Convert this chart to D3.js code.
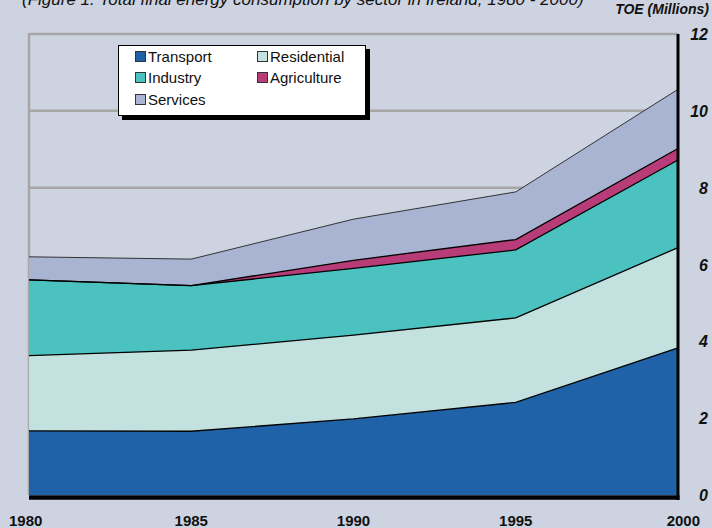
<!DOCTYPE html>
<html>
<head>
<meta charset="utf-8">
<script src="https://cdn.jsdelivr.net/npm/d3@7"></script>
<style>
  html, body { margin: 0; padding: 0; background: #CDD3E0; }
  svg { display: block; font-family: "Liberation Sans", Arial, sans-serif; }
</style>
</head>
<body>
<div id="chart"></div>
<script>
// data
const years = [1980, 1985, 1990, 1995, 2000];
const sectors = ["Transport", "Residential", "Industry", "Agriculture", "Services"];
const transport = [1.67, 1.66, 1.98, 2.41, 3.83];
const residential = [1.96, 2.11, 2.18, 2.20, 2.61];
const industry = [1.97, 1.68, 1.74, 1.77, 2.28];
const agriculture = [0, 0, 0.21, 0.27, 0.30];
const services = [0.60, 0.69, 1.07, 1.24, 1.54];
const yTicks = [0, 2, 4, 6, 8, 10, 12];

const colors = {
    Transport: "#2062A8",
    Residential: "#C2E1DF",
    Industry: "#4BC2BF",
    Agriculture: "#B83C78",
    Services: "#A9B4D3"
};

const width = 712, height = 528;
const plotLeft = 29, plotRight = 678, plotTop = 34, plotBottom = 495;

const rows = years.map((yr, i) => ({
    year: yr,
    Transport: transport[i],
    Residential: residential[i],
    Industry: industry[i],
    Agriculture: agriculture[i],
    Services: services[i]
}));

const svg = d3.select("#chart").append("svg")
    .attr("width", width)
    .attr("height", height);

svg.append("rect").attr("width", width).attr("height", height).attr("fill", "#CDD3E0");

// title line, cut off at the top edge like in the source image
svg.append("text")
    .attr("x", 22)
    .attr("y", 5)
    .style("font-size", "17px")
    .style("font-style", "italic")
    .attr("fill", "#111")
    .text("(Figure 1: Total final energy consumption by sector in Ireland, 1980 - 2000)");

const x = d3.scaleLinear().domain([1980, 2000]).range([plotLeft, plotRight]);
const y = d3.scaleLinear().domain([0, 12]).range([plotBottom, plotTop]);

// grid lines
svg.append("g")
    .selectAll("line")
    .data(yTicks.filter(d => d > 0))
    .enter()
    .append("line")
    .attr("x1", plotLeft)
    .attr("x2", plotRight)
    .attr("y1", d => y(d))
    .attr("y2", d => y(d))
    .attr("stroke", "#A6A6A6")
    .attr("stroke-width", 2.5);

// left border (grey)
svg.append("line")
    .attr("x1", plotLeft).attr("x2", plotLeft)
    .attr("y1", plotTop - 1).attr("y2", plotBottom)
    .attr("stroke", "#A6A6A6")
    .attr("stroke-width", 2.5);

// stacked areas
const stack = d3.stack().keys(sectors);
const series = stack(rows);

const area = d3.area()
    .x(d => x(d.data.year))
    .y0(d => y(d[0]))
    .y1(d => y(d[1]));

const topLine = d3.line()
    .x(d => x(d.data.year))
    .y(d => y(d[1]));

svg.append("g")
    .selectAll("path")
    .data(series)
    .enter()
    .append("path")
    .attr("d", area)
    .attr("fill", d => colors[d.key]);

svg.append("g")
    .selectAll("path")
    .data(series)
    .enter()
    .append("path")
    .attr("d", topLine)
    .attr("fill", "none")
    .attr("stroke", d => d.key === "Services" ? "#333" : "#000")
    .attr("stroke-width", d => d.key === "Services" ? 1 : 1.3);

// right and bottom black borders
svg.append("line")
    .attr("x1", plotRight).attr("x2", plotRight)
    .attr("y1", plotTop).attr("y2", plotBottom + 5)
    .attr("stroke", "#000")
    .attr("stroke-width", 3);

svg.append("line")
    .attr("x1", plotLeft).attr("x2", plotRight + 1.5)
    .attr("y1", plotBottom + 2.5).attr("y2", plotBottom + 2.5)
    .attr("stroke", "#000")
    .attr("stroke-width", 4.5);

// y axis labels on the right
svg.append("g")
    .selectAll("text")
    .data(yTicks)
    .enter()
    .append("text")
    .attr("x", 708)
    .attr("y", d => y(d) + 6)
    .attr("text-anchor", "end")
    .style("font-size", "16px")
    .style("font-weight", "bold")
    .style("font-style", "italic")
    .attr("fill", "#111")
    .text(d => d);

svg.append("text")
    .attr("x", 709)
    .attr("y", 14)
    .attr("text-anchor", "end")
    .style("font-size", "14px")
    .style("font-weight", "bold")
    .style("font-style", "italic")
    .attr("fill", "#111")
    .text("TOE (Millions)");

// x axis labels
svg.append("g")
    .selectAll("text")
    .data(years)
    .enter()
    .append("text")
    .attr("x", d => x(d))
    .attr("y", 526)
    .attr("text-anchor", d => d === 1980 ? "start" : (d === 2000 ? "end" : "middle"))
    .attr("dx", d => d === 1980 ? -20 : (d === 2000 ? 22 : 0))
    .style("font-size", "15px")
    .style("font-weight", "bold")
    .attr("fill", "#111")
    .text(d => d);

// legend
const lg = svg.append("g");
lg.append("rect")
    .attr("x", 122).attr("y", 49)
    .attr("width", 248).attr("height", 71)
    .attr("fill", "#000");
lg.append("rect")
    .attr("x", 118.5).attr("y", 45.5)
    .attr("width", 247).attr("height", 70)
    .attr("fill", "#fff")
    .attr("stroke", "#000")
    .attr("stroke-width", 1);

const legendPos = [
    [135, 57], [257, 57],
    [135, 78], [257, 78],
    [135, 100]
];
const legendOrder = ["Transport", "Residential", "Industry", "Agriculture", "Services"];

legendOrder.forEach((key, i) => {
    const [lx, ly] = legendPos[i];
    lg.append("rect")
        .attr("x", lx + 0.5).attr("y", ly - 5.5)
        .attr("width", 10).attr("height", 10)
        .attr("fill", colors[key])
        .attr("stroke", "#333")
        .attr("stroke-width", 1);
    lg.append("text")
        .attr("x", lx + 13)
        .attr("y", ly + 5)
        .style("font-size", "15px")
        .attr("fill", "#111")
        .text(key);
});
</script>
</body>
</html>
